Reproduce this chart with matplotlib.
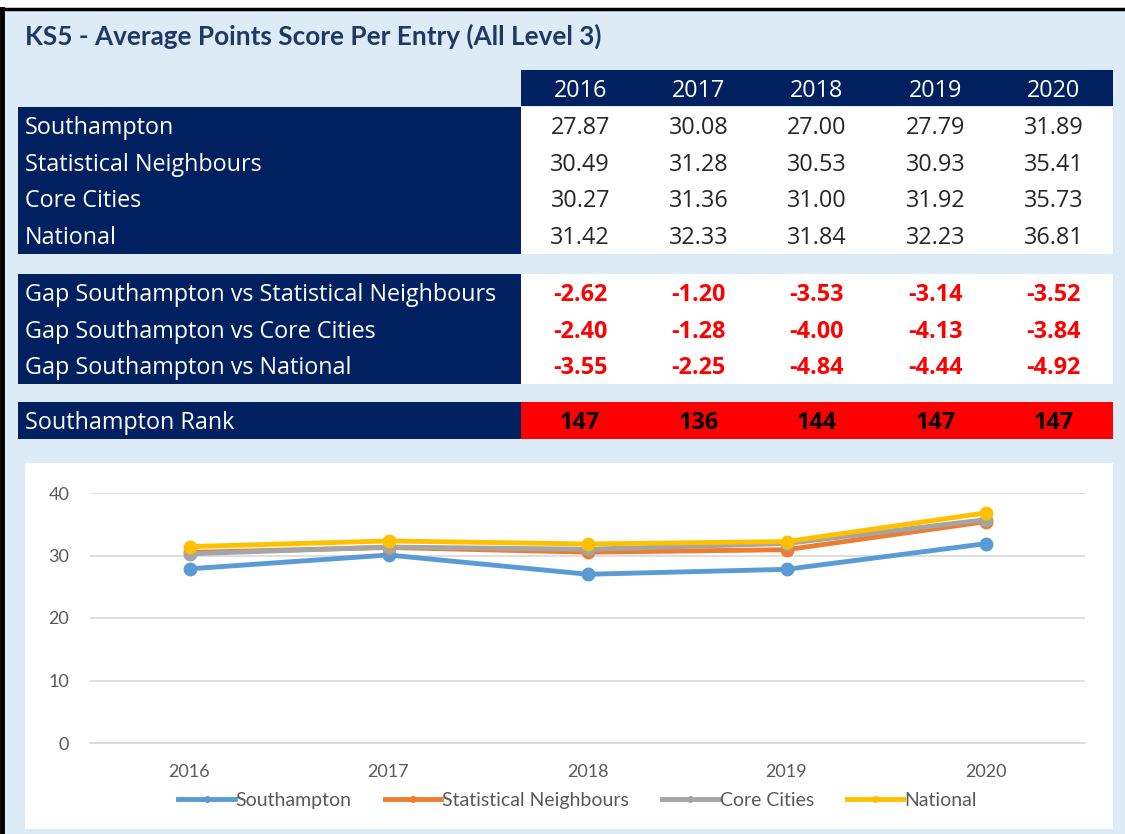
import matplotlib.pyplot as plt
from matplotlib.patches import Rectangle
from matplotlib.lines import Line2D

years = ["2016", "2017", "2018", "2019", "2020"]
areas = ["Southampton", "Statistical Neighbours", "Core Cities", "National"]
southampton = [27.87, 30.08, 27.00, 27.79, 31.89]
stat_neighbours = [30.49, 31.28, 30.53, 30.93, 35.41]
core_cities = [30.27, 31.36, 31.00, 31.92, 35.73]
national = [31.42, 32.33, 31.84, 32.23, 36.81]
gap_labels = ["Gap Southampton vs Statistical Neighbours",
              "Gap Southampton vs Core Cities",
              "Gap Southampton vs National"]
gap_sn = [-2.62, -1.20, -3.53, -3.14, -3.52]
gap_cc = [-2.40, -1.28, -4.00, -4.13, -3.84]
gap_nat = [-3.55, -2.25, -4.84, -4.44, -4.92]
rank = [147, 136, 144, 147, 147]

NAVY = "#002060"
BG = "#DDEBF7"
plt.rcParams['font.family'] = ['Lato', 'DejaVu Sans']
TABLE_FONT = ['Open Sans', 'DejaVu Sans']
TFS = 16.8
BASE = 8.5  # baseline offset below row centre, px

fig = plt.figure(figsize=(11.25, 8.34), dpi=100)
fig.patch.set_facecolor("white")

# canvas in pixel units for the table part
cv = fig.add_axes([0, 0, 1, 1])
cv.set_xlim(0, 1125)
cv.set_ylim(834, 0)
cv.axis("off")

cv.add_patch(Rectangle((0, 8), 1125, 826, facecolor=BG, edgecolor="none"))
cv.plot([0, 1125], [9, 9], color="black", lw=2.5)
cv.plot([2, 2], [9, 834], color="black", lw=3.5)

cv.text(25, 36, "KS5 - Average Points Score Per Entry (All Level 3)", fontsize=18.8,
        fontweight="bold", color="#1F3864", va="center", ha="left")

lab_x0, lab_x1, tab_x1 = 18, 521, 1113
col_w = (tab_x1 - lab_x1) / len(years)
col_c = [lab_x1 + col_w * (i + 0.5) for i in range(len(years))]
row_h = 36.7

# header
cv.add_patch(Rectangle((lab_x1, 70), tab_x1 - lab_x1, 36, facecolor=NAVY, edgecolor="none"))
for x, y in zip(col_c, years):
    cv.text(x, 88.5 + BASE, y, color="white", fontsize=TFS, ha="center", va="baseline",
            family=TABLE_FONT)


def block(top, labels, rows, color="#262626", weight="normal", fill="white", fmt="{:.2f}"):
    h = row_h * len(labels)
    cv.add_patch(Rectangle((lab_x0, top), lab_x1 - lab_x0, h, facecolor=NAVY, edgecolor="none"))
    cv.add_patch(Rectangle((lab_x1, top), tab_x1 - lab_x1, h, facecolor=fill, edgecolor="none"))
    for i, (lab, vals) in enumerate(zip(labels, rows)):
        yb = top + row_h * (i + 0.5) + BASE
        cv.text(lab_x0 + 7, yb, lab, color="white", fontsize=TFS, ha="left", va="baseline",
                family=TABLE_FONT)
        for x, v in zip(col_c, vals):
            cv.text(x, yb, fmt.format(v), color=color, fontsize=TFS, ha="center",
                    va="baseline", fontweight=weight, family=TABLE_FONT)


block(107, areas, [southampton, stat_neighbours, core_cities, national])
block(274, gap_labels, [gap_sn, gap_cc, gap_nat], color="#FF0000", weight="bold")
block(402, ["Southampton Rank"], [rank], color="black", weight="bold",
      fill="#FF0000", fmt="{}")

# chart panel
cv.add_patch(Rectangle((25, 463), 1088, 366, facecolor="white", edgecolor="none"))

ax = fig.add_axes([90 / 1125, 91 / 834, 995 / 1125, 250 / 834])
ax.set_facecolor("none")
series = [southampton, stat_neighbours, core_cities, national]
colors = ["#5B9BD5", "#ED7D31", "#A5A5A5", "#FFC000"]
xs = range(len(years))
for name, vals, c in zip(areas, series, colors):
    ax.plot(xs, vals, color=c, lw=3.5, marker="o", markersize=9, label=name,
            clip_on=False, solid_capstyle="round")
ax.set_xlim(-0.5, len(years) - 0.5)
ax.set_ylim(0, 40)
ax.set_yticks([0, 10, 20, 30, 40])
ax.set_xticks(list(xs))
ax.set_xticklabels(years)
ax.grid(axis="y", color="#D9D9D9", lw=1.2)
ax.set_axisbelow(True)
for s in ax.spines.values():
    s.set_visible(False)
ax.spines["bottom"].set_visible(True)
ax.spines["bottom"].set_color("#D9D9D9")
ax.spines["bottom"].set_linewidth(1.2)
ax.tick_params(length=0, colors="#595959", labelsize=13)
ax.tick_params(axis="y", pad=15)
ax.tick_params(axis="x", pad=15)

handles = [Line2D([0], [0], color=c, lw=3.5, marker="o", markersize=4) for c in colors]
ax.legend(handles, areas, loc="center", bbox_to_anchor=(0.49, -0.23), ncol=4,
          frameon=False, fontsize=14, labelcolor="#595959", handlelength=2.9,
          handletextpad=0.05, columnspacing=1.7)

fig.savefig("out.png", dpi=100)
